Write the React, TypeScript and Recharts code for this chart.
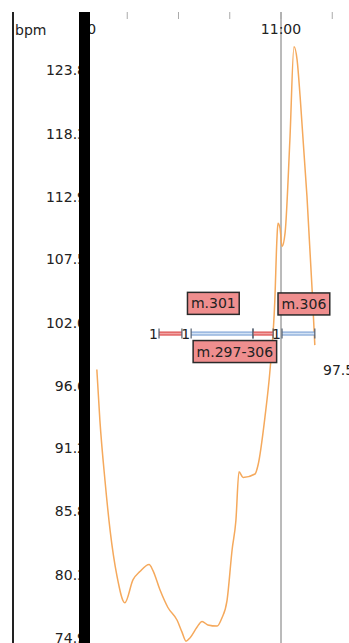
import React from 'react';
import { ComposedChart, Line, XAxis, YAxis, ReferenceLine, ReferenceDot } from 'recharts';

// heart-rate samples (minutes since midnight, bpm)
const times = [606.1, 607.0, 608.5, 610.0, 612.0, 614.3, 616.7, 618.7, 621.4, 622.5, 624.6, 626.9, 629.6, 631.0, 632.2, 633.4, 635.4, 636.9, 638.6, 641.3, 642.7, 644.2, 645.7, 646.8, 647.7, 648.9, 652.4, 653.3, 655.3, 656.8, 658.2, 658.8, 659.1, 659.7, 660.3, 661.2, 662.6, 663.8, 664.7, 665.6, 667.6, 669.1, 669.9];
const bpm = [98.0, 93.6, 88.4, 84.1, 80.2, 77.9, 79.9, 80.6, 81.2, 80.7, 79.0, 77.5, 76.4, 75.4, 74.6, 74.9, 75.8, 76.3, 76.0, 75.9, 76.6, 78.1, 82.5, 85.0, 89.2, 88.7, 89.0, 89.8, 93.9, 98.0, 104.0, 109.2, 110.6, 110.2, 108.6, 109.8, 117.8, 125.8, 124.7, 121.5, 112.9, 104.9, 100.1];

// interval markers
const intervalStarts = [624.3, 633.7, 651.8, 660.3];
const intervalEnds = [631.0, 651.8, 657.7, 669.9];
const intervalKinds = ['red', 'blue', 'red', 'blue'];
const intervalCounts = ['1', '1', '', '1'];
const markerBpm = 101.1;

// note boxes
const noteTexts = ['m.301', 'm.306', 'm.297-306'];
const noteTimes = [640.2, 666.7, 646.5];
const noteBpm = [103.7, 103.65, 99.55];

// current value label
const currentTime = 672.3;
const currentBpm = 97.5;

const yTicks = [74.9, 80.3, 85.8, 91.2, 96.6, 102.0, 107.5, 112.9, 118.3, 123.8];
const xTicks = [600, 615, 630, 645, 660, 675];
const xTickLabels = ['10:00', '', '', '', '11:00', ''];
const referenceTime = 660;
const xDomain = [604.1, 679.9];
const yDomain = [74.27, 128.8];

const data = times.map((t, i) => ({ t, bpm: bpm[i] }));
const bottomTicks = xTicks.filter((t) => t >= xDomain[0]);

const FONT = '"DejaVu Sans", Verdana, sans-serif';

const charW = (c: string) => {
  if (c === 'm') return 13.6;
  if (c === '.') return 4.45;
  if (c === '-') return 5.05;
  return 8.9;
};
const textWidth = (s: string) => s.split('').reduce((a, c) => a + charW(c), 0);

const TopTick = (props: any) => {
  const { x, y, payload, index } = props;
  const label = xTickLabels[xTicks.indexOf(payload.value)] ?? '';
  const id = `xtclip${index}`;
  return (
    <g>
      <defs>
        <clipPath id={id}>
          <rect x={90} y={0} width={300} height={60} />
        </clipPath>
      </defs>
      <g clipPath={`url(#${id})`}>
        <line x1={x} y1={y - 12} x2={x} y2={y - 5} stroke="#aaa" strokeWidth={1} />
        <text x={x} y={y + 10} textAnchor="middle" fontSize={14} fill="#222" fontFamily={FONT}>
          {label}
        </text>
      </g>
    </g>
  );
};

const makeIntervalShape = (kind: string, count: string) => (props: any) => {
  const { x1, y1, x2 } = props;
  if (x1 == null || y1 == null) return <g />;
  const line = kind === 'red' ? '#d83a3a' : '#6f98d0';
  const fillC = kind === 'red' ? '#f2a3a3' : '#d4e3f5';
  return (
    <g>
      <rect x={x1} y={y1 - 1.5} width={x2 - x1} height={3} fill={fillC} />
      <line x1={x1} y1={y1 - 1.5} x2={x2} y2={y1 - 1.5} stroke={line} strokeWidth={1} />
      <line x1={x1} y1={y1 + 1.5} x2={x2} y2={y1 + 1.5} stroke={line} strokeWidth={1} />
      <line x1={x1} y1={y1 - 5} x2={x1} y2={y1 + 5} stroke="#556070" strokeWidth={1.2} />
      <line x1={x2} y1={y1 - 5} x2={x2} y2={y1 + 5} stroke="#556070" strokeWidth={1.2} />
      {count ? (
        <text x={x1 - 1} y={y1 + 5} textAnchor="end" fontSize={14} fill="#222" fontFamily={FONT}>
          {count}
        </text>
      ) : null}
    </g>
  );
};

const makeNoteShape = (text: string) => (props: any) => {
  const { cx, cy } = props;
  if (cx == null || cy == null) return <g />;
  const w = textWidth(text) + 7;
  const h = 22;
  return (
    <g>
      <rect x={cx - w / 2} y={cy - h / 2} width={w} height={h} fill="#ef8e8e" stroke="#2a2a2a" strokeWidth={1.5} />
      <text x={cx} y={cy + 5} textAnchor="middle" fontSize={14} fill="#222" fontFamily={FONT}>
        {text}
      </text>
    </g>
  );
};

const currentShape = (props: any) => {
  const { cx, cy } = props;
  if (cx == null || cy == null) return <g />;
  return (
    <text x={cx} y={cy} textAnchor="start" fontSize={14} fill="#222" fontFamily={FONT}>
      {currentBpm.toFixed(1)}
    </text>
  );
};

const BpmLabel = (props: any) => {
  const vb = props.viewBox || { x: 0, y: 12 };
  return (
    <text x={vb.x + 15} y={vb.y + 23} fontSize={14} fill="#222" fontFamily={FONT}>
      bpm
    </text>
  );
};

export default function App() {
  return (
    <div style={{ position: 'absolute', left: 0, top: 0, width: 349, height: 643, overflow: 'hidden', background: '#fff', fontFamily: FONT }}>
      <ComposedChart
        width={349}
        height={650}
        data={data}
        margin={{ top: 12, right: 0, left: 0, bottom: 5 }}
      >
        <XAxis
          xAxisId="top"
          dataKey="t"
          type="number"
          orientation="top"
          mirror
          domain={xDomain}
          allowDataOverflow
          ticks={xTicks}
          interval={0}
          axisLine={false}
          tickLine={false}
          tickSize={7}
          tickMargin={5}
          tick={<TopTick />}
        />
        <XAxis
          xAxisId="bottom"
          dataKey="t"
          type="number"
          orientation="bottom"
          mirror
          domain={xDomain}
          allowDataOverflow
          ticks={bottomTicks}
          interval={0}
          axisLine={false}
          tickLine={{ stroke: '#aaa' }}
          tickSize={8}
          tick={false}
        />
        <YAxis
          dataKey="bpm"
          type="number"
          width={90}
          domain={yDomain}
          allowDataOverflow
          ticks={yTicks}
          interval={0}
          axisLine={false}
          tickLine={{ stroke: '#aaa' }}
          tickSize={3}
          tickMargin={1}
          tickFormatter={(v: number) => v.toFixed(1)}
          tick={{ fontSize: 14, fill: '#222', fontFamily: FONT }}
          label={<BpmLabel />}
        />
        <ReferenceLine xAxisId="top" x={referenceTime} stroke="#777" strokeWidth={1} />
        <Line
          xAxisId="top"
          dataKey="bpm"
          type="monotone"
          stroke="#f5a95c"
          strokeWidth={1.5}
          dot={false}
          isAnimationActive={false}
        />
        {intervalStarts.map((s, i) => (
          <ReferenceLine
            key={'iv' + i}
            xAxisId="top"
            segment={[
              { x: s, y: markerBpm },
              { x: intervalEnds[i], y: markerBpm },
            ]}
            stroke="#6f98d0"
            shape={makeIntervalShape(intervalKinds[i], intervalCounts[i])}
          />
        ))}
        {noteTexts.map((n, i) => (
          <ReferenceDot
            key={'note' + i}
            xAxisId="top"
            x={noteTimes[i]}
            y={noteBpm[i]}
            r={1}
            shape={makeNoteShape(n)}
          />
        ))}
        <ReferenceDot xAxisId="top" x={currentTime} y={currentBpm} r={1} shape={currentShape} />
      </ComposedChart>
      <div style={{ position: 'absolute', left: 12, top: 12, width: 2, height: 640, background: '#222' }} />
      <div style={{ position: 'absolute', left: 79, top: 12, width: 11, height: 640, background: '#000' }} />
    </div>
  );
}
